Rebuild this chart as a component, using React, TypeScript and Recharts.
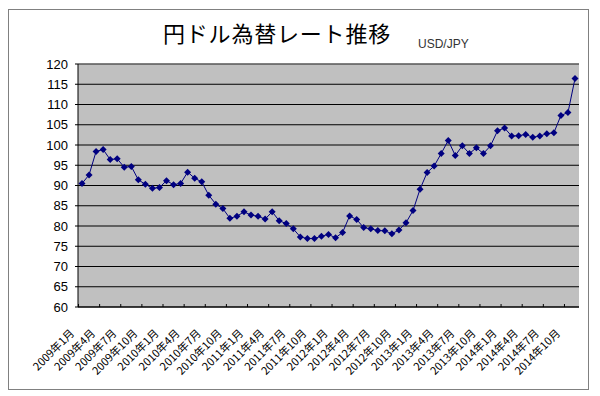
import { CartesianGrid, Line, LineChart, ReferenceLine, XAxis, YAxis } from "recharts";

// monthly USD/JPY, Jan 2009 .. Nov 2014
const START_YEAR = 2009;
const MONTH_COUNT = 71;
const RATES = [
  90.5, 92.6, 98.4, 98.9, 96.4, 96.6, 94.5, 94.7, 91.4, 90.3, 89.3, 89.5,
  91.2, 90.2, 90.5, 93.3, 91.8, 90.9, 87.6, 85.4, 84.3, 81.9, 82.4, 83.5,
  82.7, 82.4, 81.7, 83.5, 81.3, 80.6, 79.3, 77.3, 76.9, 76.9, 77.5, 77.9,
  77.1, 78.4, 82.5, 81.6, 79.6, 79.3, 78.9, 78.8, 78.1, 79.0, 80.8, 83.8,
  89.1, 93.2, 94.8, 97.9, 101.1, 97.4, 99.8, 97.9, 99.3, 97.9, 99.8, 103.5,
  104.2, 102.2, 102.3, 102.6, 101.9, 102.2, 102.8, 103.0, 107.3, 108.0, 116.4,
];
const Y_TICKS = [60, 65, 70, 75, 80, 85, 90, 95, 100, 105, 110, 115, 120];

const MONTH_LABELS = Array.from({ length: MONTH_COUNT }, (_, i) => {
  const y = START_YEAR + Math.floor(i / 12);
  const m = (i % 12) + 1;
  return `${y}年${m}月`;
});

const data = MONTH_LABELS.map((label, i) => ({ label, rate: RATES[i] }));

const NAVY = "#000080";
const JP_FONT = "'Noto Sans CJK JP', sans-serif";
const HALF_STEP = 3.5;

function Diamond(props: any) {
  const { cx, cy, index } = props;
  if (cx == null || cy == null) return <g key={index} />;
  const r = 3.5;
  return (
    <path
      key={index}
      d={`M${cx},${cy - r}L${cx + r},${cy}L${cx},${cy + r}L${cx - r},${cy}Z`}
      fill={NAVY}
      stroke="none"
    />
  );
}

function MonthTick(props: any) {
  const { x, y, payload } = props;
  return (
    <g>
      <line x1={x - HALF_STEP} y1={y} x2={x - HALF_STEP} y2={y - 3} stroke="#000" />
      <text
        x={x - 7}
        y={y + 27}
        transform={`rotate(-45, ${x - 7}, ${y + 27})`}
        textAnchor="end"
        fontFamily={JP_FONT}
        fontSize={11}
        fill="#000"
      >
        {payload.value}
      </text>
    </g>
  );
}

export default function App() {
  return (
    <div style={{ position: "relative", width: 584, height: 388 }}>
      <div
        style={{
          position: "absolute",
          left: 0,
          top: 1,
          width: 581,
          height: 381,
          boxSizing: "border-box",
          border: "1px solid #808080",
        }}
      />
      <svg width={584} height={60} style={{ position: "absolute", left: 0, top: 0 }}>
        <text x={155} y={34} fontFamily={JP_FONT} fontSize={22} letterSpacing={0.8} fill="#000">
          円ドル為替レート推移
        </text>
        <text x={410} y={40} fontFamily="'Liberation Sans', Arial, sans-serif" fontSize={12} fill="#333">
          USD/JPY
        </text>
      </svg>
      <div style={{ position: "absolute", left: 0, top: 0 }}>
        <LineChart
          width={584}
          height={388}
          data={data}
          margin={{ top: 56, right: 13, bottom: 0, left: 10 }}
        >
          <CartesianGrid vertical={false} stroke="#000" fill="#C0C0C0" fillOpacity={1} />
          <XAxis
            dataKey="label"
            interval={2}
            height={89}
            padding={{ left: 4, right: 4 }}
            tickSize={0}
            tickMargin={0}
            tickLine={false}
            axisLine={{ stroke: "#000" }}
            tick={<MonthTick />}
          />
          <YAxis
            domain={[60, 120]}
            ticks={Y_TICKS}
            width={60}
            tickSize={3}
            tickMargin={7}
            interval={0}
            axisLine={{ stroke: "#000" }}
            tickLine={{ stroke: "#000" }}
            tick={{ fill: "#000", fontSize: 13, fontFamily: "'Liberation Sans', Arial, sans-serif" }}
          />
          <YAxis
            yAxisId="border"
            orientation="right"
            domain={[60, 120]}
            width={0}
            tick={false}
            tickLine={false}
            axisLine={{ stroke: "#808080" }}
          />
          <ReferenceLine y={120} stroke="#808080" />
          <Line
            type="linear"
            dataKey="rate"
            stroke={NAVY}
            strokeWidth={1}
            dot={Diamond}
            activeDot={false}
            isAnimationActive={false}
          />
        </LineChart>
      </div>
    </div>
  );
}
